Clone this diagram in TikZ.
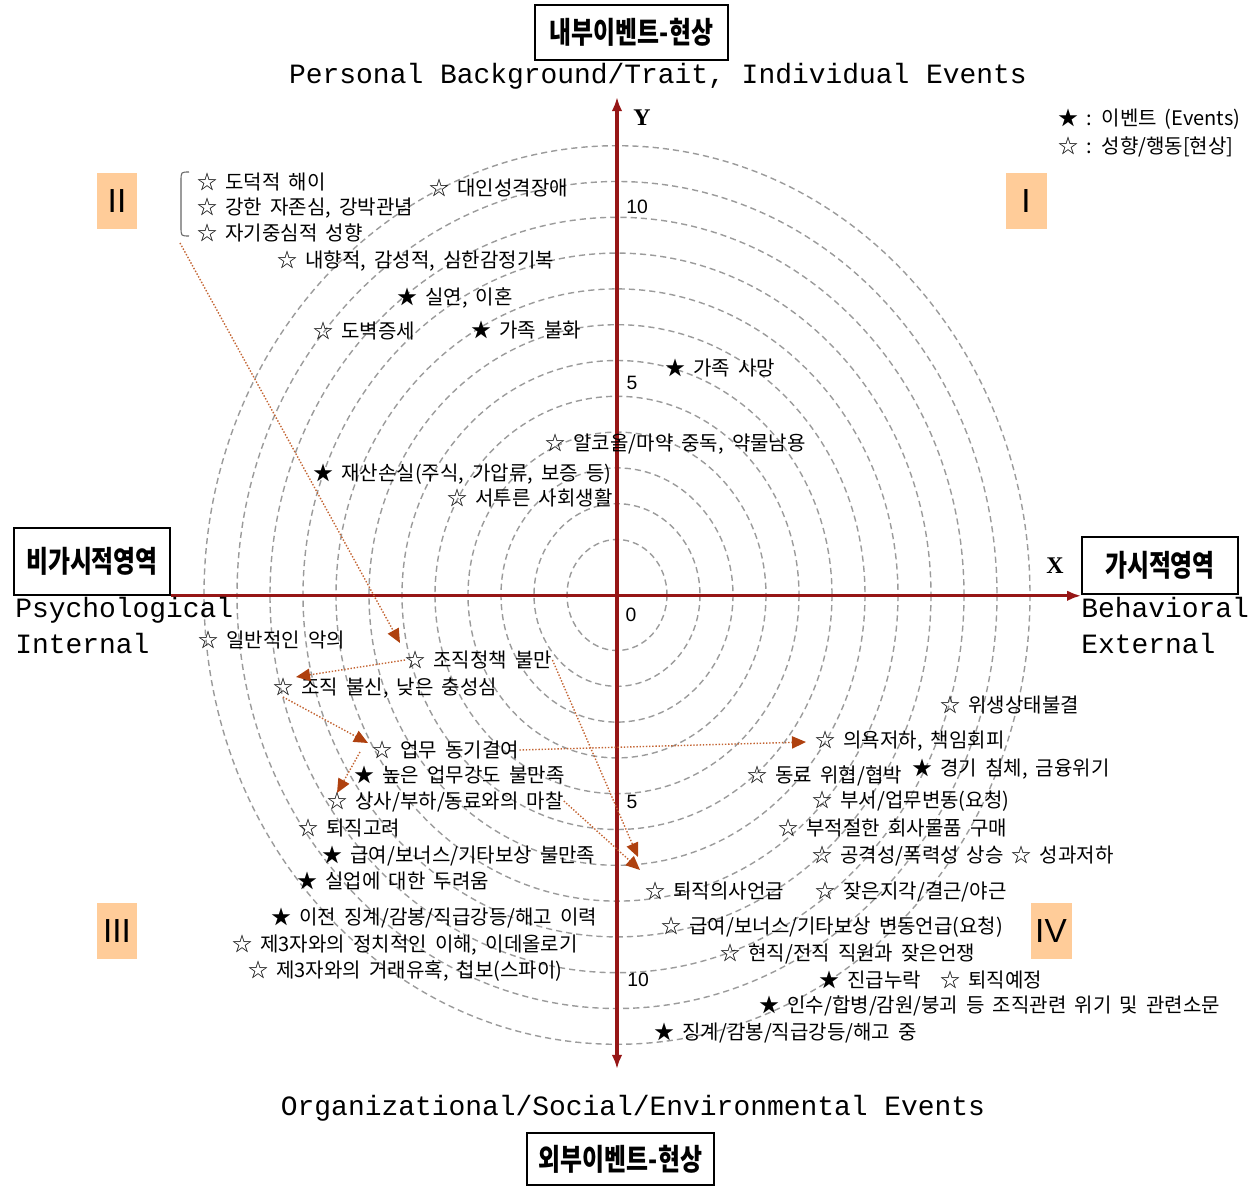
\documentclass[tikz,border=0pt]{standalone}
\usepackage{fontspec}
\setmainfont{Liberation Sans}
\newfontfamily\kr{Noto Sans CJK KR}[WordSpace=1.8]
\newfontfamily\krh{Noto Sans CJK KR}[FakeStretch=0.8]
\newfontfamily\monof{Liberation Mono}
\newfontfamily\serf{Liberation Serif}
\usetikzlibrary{arrows.meta,calc}
\definecolor{axisred}{RGB}{150,22,22}
\definecolor{ringgray}{RGB}{155,155,155}
\definecolor{connc}{RGB}{195,100,50}
\definecolor{arrowc}{RGB}{175,65,15}
\definecolor{quadfill}{RGB}{255,204,153}
\begin{document}
\begin{tikzpicture}[x=0.02cm,y=-0.02cm,
 lbl/.style={anchor=west,inner sep=0pt,text height=0.33cm,text depth=0.03cm,font=\kr\fontsize{11.4pt}{13pt}\selectfont},
 eng/.style={anchor=base west,inner sep=0pt,font=\monof\fontsize{15.9pt}{18pt}\selectfont},
 engc/.style={anchor=base,inner sep=0pt,font=\monof\fontsize{15.9pt}{18pt}\selectfont},
 headbox/.style={draw=black,line width=0.9pt,inner sep=0pt,font=\krh\bfseries\fontsize{17pt}{19pt}\selectfont},
 quad/.style={fill=quadfill,inner sep=0pt,minimum width=0.82cm,minimum height=1.12cm,font=\fontsize{19pt}{22pt}\selectfont},
 tick/.style={inner sep=0pt,font=\fontsize{11pt}{13pt}\selectfont},
 axislbl/.style={inner sep=0pt,font=\serf\bfseries\fontsize{13.6pt}{16pt}\selectfont},
 ring/.style={draw=ringgray,line width=0.8pt,dash pattern=on 3.5pt off 2.3pt},
 axisline/.style={draw=axisred,line width=1.8pt},
 conn/.style={draw=connc,line width=0.8pt,densely dotted,-{Triangle[length=8pt,width=7pt,color=arrowc]}}
]
\useasboundingbox (0,0) rectangle (1259,1186);

% rings
\foreach \k in {0,...,11}
  \draw[ring] (617,595) ellipse [x radius={50+33*\k}, y radius={55.5+35.8*\k}];

% boxes
\node[headbox,minimum width=3.86cm,minimum height=1.1cm] (topbox) at (631.5,32.5) {내부이벤트-현상};
\node[headbox,minimum width=3.12cm,minimum height=1.34cm] (leftbox) at (92,561.5) {비가시적영역};
\node[headbox,minimum width=3.12cm,minimum height=1.14cm] (rightbox) at (1160,565.5) {가시적영역};
\node[headbox,minimum width=3.74cm,minimum height=1.04cm] (botbox) at (620.5,1159) {외부이벤트-현상};

% axes
\coordinate (ytop) at (617,97);
\coordinate (ybot) at (617,1069);
\draw[axisline,{Latex[length=8pt,width=6pt]}-{Latex[length=8pt,width=6pt]}] (ybot) -- (ytop);
\draw[axisline,-{Latex[length=8pt,width=6pt]}] (leftbox.south east) -- (rightbox.south west |- leftbox.south east);

\node[axislbl] (ylab) at (642,118) {Y};
\node[axislbl] (xlab) at (1055,566) {X};

\node[tick] (t10u) at (637,207) {10};
\node[tick] (t5u) at (632,383) {5};
\node[tick] (t0) at (631,615) {0};
\node[tick] (t5d) at (632,802) {5};
\node[tick] (t10d) at (638,980) {10};

% English labels
\node[engc] (toptxt) at (658,84) {Personal Background/Trait, Individual Events};
\node[engc] (bottxt) at (633,1115) {Organizational/Social/Environmental Events};
\node[eng] (psy) at (15,617) {Psychological};
\node[eng] (intl) at (15,653) {Internal};
\node[eng] (beh) at (1081,617) {Behavioral};
\node[eng] (extl) at (1081,653) {External};

% quadrant markers
\node[quad] (q1) at (1026,201) {I};
\node[quad] (q2) at (117,201) {II};
\node[quad] (q3) at (117,931) {III};
\node[quad] (q4) at (1051,931) {IV};

% legend
\node[lbl] (lg1) at (1058,118) {★ : 이벤트 (Events)};
\node[lbl] (lg2) at (1058,146) {☆ : 성향/행동[현상]};

% bracket
\draw[draw=black!60,line width=0.6pt] (189,172) .. controls (181,172) .. (181,181) -- (181,227) .. controls (181,236) .. (189,236);
\coordinate (brk) at (180,243);

% quadrant II
\node[lbl] (l1) at (197,182) {☆ 도덕적 해이};
\node[lbl] (l2) at (197,207) {☆ 강한 자존심, 강박관념};
\node[lbl] (l3) at (197,233) {☆ 자기중심적 성향};
\node[lbl] (l4) at (429,188) {☆ 대인성격장애};
\node[lbl] (l5) at (277,260) {☆ 내향적, 감성적, 심한감정기복};
\node[lbl] (l6) at (397,297) {★ 실연, 이혼};
\node[lbl] (l7) at (313,331) {☆ 도벽증세};
\node[lbl] (l8) at (471,330) {★ 가족 불화};
\node[lbl] (l9) at (665,368) {★ 가족 사망};
\node[lbl] (l10) at (545,443) {☆ 알코올/마약 중독, 약물남용};
\node[lbl] (l11) at (313,473) {★ 재산손실(주식, 가압류, 보증 등)};
\node[lbl] (l12) at (447,498) {☆ 서투른 사회생활};

% quadrant III
\node[lbl] (l13) at (198,640) {☆ 일반적인 악의};
\node[lbl] (ccp) at (405,660) {☆ 조직정책 불만};
\node[lbl] (distrust) at (273,687) {☆ 조직 불신, 낮은 충성심};
\node[lbl] (motiv) at (372,750) {☆ 업무 동기결여};
\node[lbl] (l17) at (354,775) {★ 높은 업무강도 불만족};
\node[lbl] (friction) at (327,801) {☆ 상사/부하/동료와의 마찰};
\node[lbl] (l19) at (298,828) {☆ 퇴직고려};
\node[lbl] (l20) at (322,855) {★ 급여/보너스/기타보상 불만족};
\node[lbl] (l21) at (297,881) {★ 실업에 대한 두려움};
\node[lbl] (l22) at (271,917) {★ 이전 징계/감봉/직급강등/해고 이력};
\node[lbl] (l23) at (232,944) {☆ 제3자와의 정치적인 이해, 이데올로기};
\node[lbl] (l24) at (248,970) {☆ 제3자와의 거래유혹, 첩보(스파이)};

% quadrant IV
\node[lbl] (l25) at (940,705) {☆ 위생상태불결};
\node[lbl] (willing) at (815,740) {☆ 의욕저하, 책임회피};
\node[lbl] (l27) at (747,775) {☆ 동료 위협/협박};
\node[lbl] (l28) at (912,768) {★ 경기 침체, 금융위기};
\node[lbl] (l29) at (812,800) {☆ 부서/업무변동(요청)};
\node[lbl] (l30) at (778,828) {☆ 부적절한 회사물품 구매};
\node[lbl] (l31) at (812,855) {☆ 공격성/폭력성 상승 ☆ 성과저하};
\node[lbl] (retm) at (645,891) {☆ 퇴직의사언급};
\node[lbl] (l33) at (815,891) {☆ 잦은지각/결근/야근};
\node[lbl] (l34) at (661,926) {☆ 급여/보너스/기타보상 변동언급(요청)};
\node[lbl] (l35) at (720,953) {☆ 현직/전직 직원과 잦은언쟁};
\node[lbl] (l36) at (819,980) {★ 진급누락};
\node[lbl] (l37) at (940,980) {☆ 퇴직예정};
\node[lbl] (l38) at (759,1005) {★ 인수/합병/감원/붕괴 등 조직관련 위기 및 관련소문};
\node[lbl] (l39) at (654,1032) {★ 징계/감봉/직급강등/해고 중};

% connectors
\draw[conn] (brk) -- ([shift={(-5,-17)}]ccp.west);
\draw[conn] (ccp.west) -- ([shift={(23,-10)}]distrust.west);
\draw[conn] ([shift={(10,10)}]distrust.west) -- ([shift={(-4,-7)}]motiv.west);
\draw[conn] ([shift={(-12,2)}]motiv.west) -- ([shift={(10,-8)}]friction.west);
\draw[conn] (motiv.east) -- ([shift={(-9,2)}]willing.west);
\draw[conn] (ccp.east) -- ([shift={(-7,-34)}]retm.west);
\draw[conn] (friction.east) -- ([shift={(-5,-21)}]retm.west);
\end{tikzpicture}
\end{document}
